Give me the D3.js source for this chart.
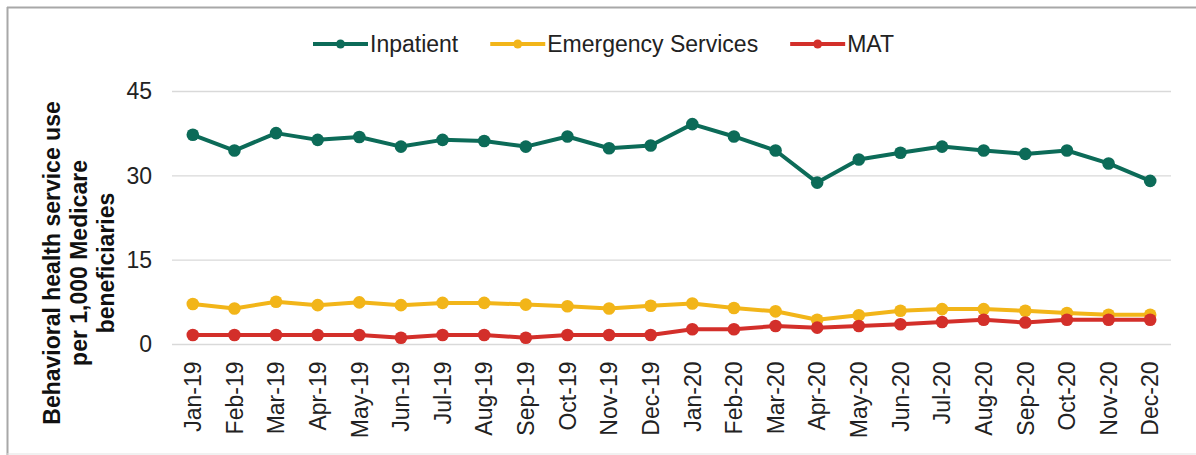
<!DOCTYPE html>
<html>
<head>
<meta charset="utf-8">
<script src="https://cdn.jsdelivr.net/npm/d3@7"></script>
<style>
  html, body { margin: 0; padding: 0; background: #fff; }
  svg { display: block; font-family: "Liberation Sans", Arial, sans-serif; }
</style>
</head>
<body>
<svg id="chart" width="1196" height="455"></svg>
<script>
const months = ["Jan-19","Feb-19","Mar-19","Apr-19","May-19","Jun-19","Jul-19","Aug-19","Sep-19","Oct-19","Nov-19","Dec-19",
                "Jan-20","Feb-20","Mar-20","Apr-20","May-20","Jun-20","Jul-20","Aug-20","Sep-20","Oct-20","Nov-20","Dec-20"];
const inpatient = [37.3,34.5,37.6,36.4,36.9,35.2,36.4,36.2,35.2,37.0,34.9,35.4,
                   39.2,37.0,34.5,28.8,32.9,34.1,35.2,34.5,33.9,34.5,32.2,29.1];
const emergency = [7.2,6.4,7.6,7.0,7.5,7.0,7.4,7.4,7.1,6.8,6.4,6.9,
                   7.3,6.5,5.9,4.4,5.2,6.0,6.3,6.3,6.0,5.6,5.3,5.3];
const mat = [1.7,1.7,1.7,1.7,1.7,1.2,1.7,1.7,1.2,1.7,1.7,1.7,
             2.7,2.7,3.3,3.0,3.3,3.6,4.0,4.4,3.9,4.4,4.4,4.4];
const yTicks = [0, 15, 30, 45];
const seriesNames = ["Inpatient", "Emergency Services", "MAT"];
const seriesColors = ["#0c6b58", "#f2b519", "#d32f2a"];
const seriesValues = [inpatient, emergency, mat];
const yTitleLines = ["Behavioral health service use", "per 1,000 Medicare", "beneficiaries"];

const svg = d3.select("#chart");

// frame
svg.append("line").attr("x1", 7).attr("x2", 1196).attr("y1", 7.5).attr("y2", 7.5)
  .attr("stroke", "#a8a8a8").attr("stroke-width", 2);
svg.append("line").attr("x1", 7.5).attr("x2", 7.5).attr("y1", 7).attr("y2", 455)
  .attr("stroke", "#a8a8a8").attr("stroke-width", 2);
svg.append("line").attr("x1", 7).attr("x2", 1196).attr("y1", 454).attr("y2", 454)
  .attr("stroke", "#e3e3e3").attr("stroke-width", 1);

const x = d3.scaleBand().domain(months).range([172, 1171]);
const y = d3.scaleLinear().domain([0, 45]).range([344.5, 91.5]);
const cx = d => x(d) + x.bandwidth() / 2;

// gridlines
svg.append("g").selectAll("line").data(yTicks).join("line")
  .attr("x1", 172).attr("x2", 1171)
  .attr("y1", d => y(d)).attr("y2", d => y(d))
  .attr("stroke", "#d9d9d9").attr("stroke-width", 1.3);

// y axis labels
const yAxis = d3.axisLeft(y).tickValues(yTicks).tickSize(0).tickPadding(20);
const yg = svg.append("g").attr("transform", "translate(172,0)").call(yAxis);
yg.select(".domain").remove();
yg.selectAll("text").attr("font-size", 23).attr("fill", "#222")
  .attr("font-family", "Liberation Sans, Arial, sans-serif");

// x axis labels
const xAxis = d3.axisBottom(x).tickSize(0);
const xg = svg.append("g").attr("transform", "translate(0,344.5)").call(xAxis);
xg.select(".domain").remove();
xg.selectAll("text")
  .attr("font-size", 23).attr("fill", "#222")
  .attr("font-family", "Liberation Sans, Arial, sans-serif")
  .attr("text-anchor", "end")
  .attr("transform", "rotate(-90)")
  .attr("x", -17).attr("y", 0).attr("dy", "0.36em");

// y title
const titleG = svg.append("g").attr("transform", "translate(0,263) rotate(-90)");
titleG.selectAll("text").data(yTitleLines).join("text")
  .attr("x", 0).attr("y", (d, i) => 60 + i * 27.2)
  .attr("text-anchor", "middle")
  .attr("font-size", 23).attr("font-weight", "bold").attr("fill", "#111")
  .text(d => d);

// series
const line = d3.line().x((d, i) => cx(months[i])).y(d => y(d));
seriesValues.forEach((vals, s) => {
  const g = svg.append("g");
  g.append("path").datum(vals).attr("d", line)
    .attr("fill", "none").attr("stroke", seriesColors[s]).attr("stroke-width", 4)
    .attr("stroke-linejoin", "round");
  g.selectAll("circle").data(vals).join("circle")
    .attr("cx", (d, i) => cx(months[i])).attr("cy", d => y(d)).attr("r", 6.3)
    .attr("fill", seriesColors[s]);
});

// legend
const legend = svg.append("g");
let lx = 313;
seriesNames.forEach((name, s) => {
  const g = legend.append("g").attr("transform", `translate(${lx},44)`);
  g.append("line").attr("x1", 0).attr("x2", 55).attr("y1", 0).attr("y2", 0)
    .attr("stroke", seriesColors[s]).attr("stroke-width", 4);
  g.append("circle").attr("cx", 27.5).attr("cy", 0).attr("r", 4.5).attr("fill", seriesColors[s]);
  const t = g.append("text").attr("x", 57).attr("y", 0).attr("dy", "0.35em")
    .attr("font-size", 23).attr("fill", "#222").text(name);
  lx += 57 + t.node().getComputedTextLength() + 32;
});
</script>
</body>
</html>
